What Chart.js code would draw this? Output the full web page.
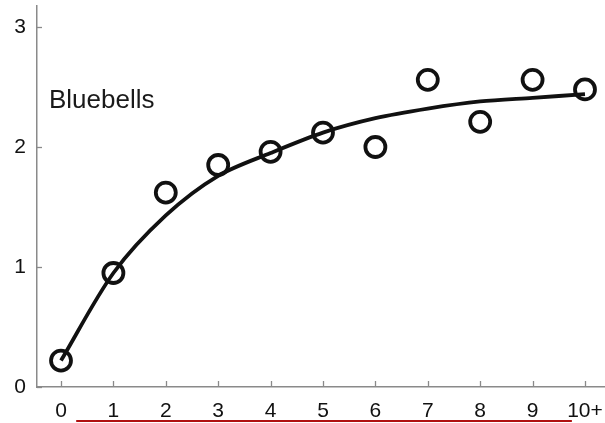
<!DOCTYPE html>
<html>
<head>
<meta charset="utf-8">
<script src="https://cdn.jsdelivr.net/npm/chart.js@4"></script>
<style>
  body{margin:0;background:#fff;}
  #wrap{width:605px;height:423px;}
</style>
</head>
<body>
<div id="wrap"><canvas id="myChart" width="605" height="423"></canvas></div>
<script>
// ages along the bottom
let xLabels=['0','1','2','3','4','5','6','7','8','9','10+'];
// observed values (circles)
let observed=[0.22,0.95,1.62,1.85,1.96,2.12,2.0,2.56,2.21,2.56,2.48];
// fitted curve
let fitted=[0.22,0.95,1.43,1.76,1.95,2.12,2.24,2.32,2.38,2.41,2.44];
let yTicks=[0,1,2,3];
let seriesName='Bluebells';

const toPoints=(arr)=>arr.map((v,i)=>({x:i,y:v}));

// small inside tick marks, underline and the series label
const extras={
  id:'extras',
  afterDraw(chart){
    const ctx=chart.ctx;
    const xs=chart.scales.x, ys=chart.scales.y;
    ctx.save();
    ctx.strokeStyle='#8a8a8a';
    ctx.lineWidth=1.3;
    xs.ticks.forEach(t=>{
      let px=Math.round(xs.getPixelForValue(t.value))+0.5;
      ctx.beginPath();
      ctx.moveTo(px,ys.bottom);
      ctx.lineTo(px,ys.bottom-6);
      ctx.stroke();
    });
    ys.ticks.forEach(t=>{
      let py=Math.round(ys.getPixelForValue(t.value))+0.5;
      ctx.beginPath();
      ctx.moveTo(xs.left,py);
      ctx.lineTo(xs.left+5,py);
      ctx.stroke();
    });
    // red underline below the labels
    ctx.strokeStyle='#b01010';
    ctx.lineWidth=2;
    ctx.beginPath();
    ctx.moveTo(xs.getPixelForValue(0.29),chart.height-2);
    ctx.lineTo(xs.getPixelForValue(9.75),chart.height-2);
    ctx.stroke();
    // series name
    ctx.fillStyle='#1a1a1a';
    ctx.font='26px "Liberation Sans", Arial, sans-serif';
    ctx.textAlign='left';
    ctx.textBaseline='alphabetic';
    ctx.fillText(seriesName,xs.getPixelForValue(-0.23),ys.getPixelForValue(2.325));
    ctx.restore();
  }
};

const noPad=(s)=>{s.paddingLeft=0;s.paddingRight=0;s.paddingTop=0;s.paddingBottom=0;};

const ctx=document.getElementById('myChart').getContext('2d');
let chart=new Chart(ctx,{
  data:{
    datasets:[
      {
        type:'scatter',
        label:'observed',
        data:toPoints(observed),
        pointRadius:10,
        pointHoverRadius:10,
        pointBorderWidth:3.8,
        pointBorderColor:'#111',
        pointBackgroundColor:'rgba(0,0,0,0)',
        clip:false,
        order:1
      },
      {
        type:'line',
        label:'fit',
        data:toPoints(fitted),
        borderColor:'#111',
        borderWidth:3.8,
        pointRadius:0,
        tension:0.3,
        fill:false,
        clip:false,
        order:2
      }
    ]
  },
  options:{
    responsive:false,
    animation:false,
    devicePixelRatio:1,
    layout:{autoPadding:false,padding:{left:0,right:0,top:6,bottom:0}},
    plugins:{legend:{display:false},tooltip:{enabled:false}},
    scales:{
      x:{
        type:'linear',
        min:-0.458,
        max:10.382,
        grid:{display:false},
        border:{display:true,color:'#8a8a8a',width:1.5},
        afterBuildTicks:s=>{s.ticks=xLabels.map((_,i)=>({value:i}));},
        afterFit:s=>{s.height=36;noPad(s);},
        ticks:{
          color:'#111',
          padding:4,
          maxRotation:0,
          autoSkip:false,
          font:{family:'"Liberation Sans", Arial, sans-serif',size:21},
          callback:(v)=>xLabels[v]
        }
      },
      y:{
        type:'linear',
        min:0,
        max:3.175,
        grid:{display:false},
        border:{display:true,color:'#8a8a8a',width:1.5},
        afterBuildTicks:s=>{s.ticks=yTicks.map(v=>({value:v}));},
        afterFit:s=>{s.width=37;noPad(s);},
        ticks:{
          color:'#111',
          padding:3,
          font:{family:'"Liberation Sans", Arial, sans-serif',size:21}
        }
      }
    }
  },
  plugins:[extras]
});
</script>
</body>
</html>
